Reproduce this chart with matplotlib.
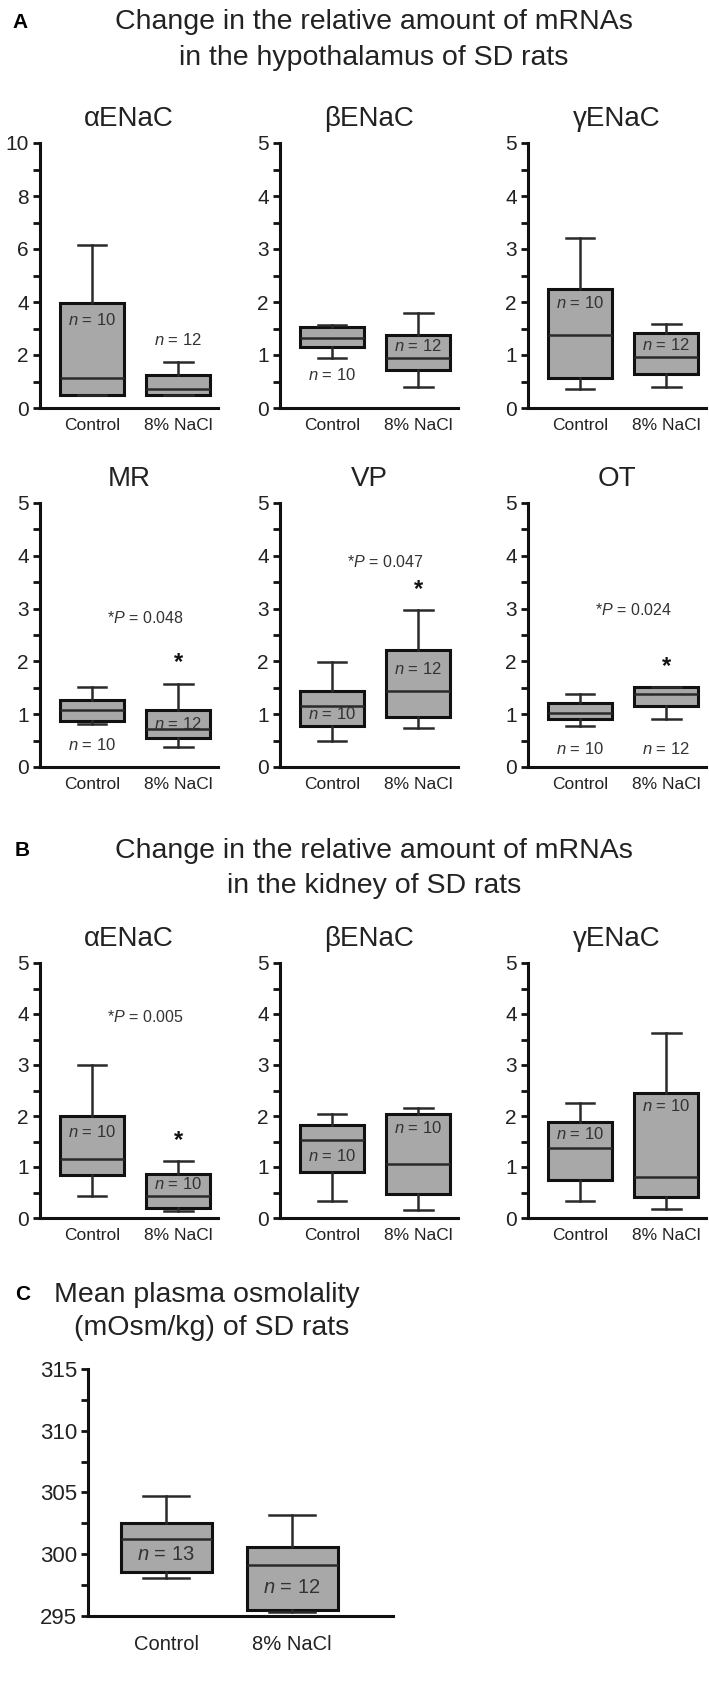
import matplotlib.pyplot as plt
from matplotlib.ticker import MultipleLocator

plt.rcParams['font.family'] = ['Liberation Sans', 'DejaVu Sans']
plt.rcParams['mathtext.fontset'] = 'custom'
plt.rcParams['mathtext.it'] = 'Liberation Sans:italic'
plt.rcParams['mathtext.rm'] = 'Liberation Sans'

groups = ['Control', '8% NaCl']

# A: hypothalamus, each pair = [Control, 8% NaCl]
hyp_genes = ['αENaC', 'βENaC', 'γENaC', 'MR', 'VP', 'OT']
hyp_whislo = [[0.50, 0.49], [0.95, 0.40], [0.35, 0.40], [0.82, 0.38], [0.50, 0.73], [0.78, 0.90]]
hyp_q1 = [[0.50, 0.49], [1.15, 0.72], [0.56, 0.65], [0.88, 0.55], [0.78, 0.95], [0.90, 1.15]]
hyp_med = [[1.13, 0.70], [1.32, 0.95], [1.38, 0.97], [1.08, 0.72], [1.15, 1.44], [1.03, 1.39]]
hyp_q3 = [[3.95, 1.24], [1.53, 1.38], [2.25, 1.41], [1.26, 1.08], [1.43, 2.22], [1.21, 1.51]]
hyp_whishi = [[6.15, 1.72], [1.57, 1.79], [3.20, 1.58], [1.52, 1.58], [1.98, 2.97], [1.39, 1.51]]
hyp_n = [[10, 12], [10, 12], [10, 12], [10, 12], [10, 12], [10, 12]]
hyp_p = [None, None, None, '0.048', '0.047', '0.024']

# B: kidney
kid_genes = ['αENaC', 'βENaC', 'γENaC']
kid_whislo = [[0.43, 0.13], [0.34, 0.15], [0.33, 0.18]]
kid_q1 = [[0.84, 0.20], [0.90, 0.47], [0.75, 0.42]]
kid_med = [[1.16, 0.44], [1.53, 1.05], [1.38, 0.80]]
kid_q3 = [[2.00, 0.86], [1.83, 2.03], [1.88, 2.45]]
kid_whishi = [[3.00, 1.12], [2.03, 2.15], [2.25, 3.62]]
kid_n = [[10, 10], [10, 10], [10, 10]]
kid_p = ['0.005', None, None]

# C: plasma osmolality (mOsm/kg)
osm_whislo = [298.1, 295.3]
osm_q1 = [298.6, 295.45]
osm_med = [301.26, 299.1]
osm_q3 = [302.55, 300.6]
osm_whishi = [304.7, 303.2]
osm_n = [13, 12]

# where the n labels sit (data units)
hyp_n_y = [[3.33, 2.55], [0.62, 1.17], [1.98, 1.19], [0.42, 0.82], [1.0, 1.85], [0.35, 0.35]]
hyp_p_y = [None, None, None, 2.82, 3.88, 2.97]
kid_n_y = [[1.69, 0.66], [1.22, 1.77], [1.65, 2.2]]
kid_p_y = [3.95, None, None]
osm_n_y = [300.0, 297.3]

BOX = '#a8a8a8'
EDGE = '#111111'
LINE = '#2a2a2a'
NARROW = ['Liberation Sans Narrow', 'Liberation Sans', 'DejaVu Sans']


def stats(lo, q1, med, q3, hi):
    return [dict(whislo=lo[i], q1=q1[i], med=med[i], q3=q3[i], whishi=hi[i]) for i in range(2)]


def draw_box(ax, st, width, capw):
    ax.bxp(st, positions=[1, 2], widths=width, showfliers=False, patch_artist=True,
           capwidths=capw,
           boxprops=dict(facecolor=BOX, edgecolor=EDGE, linewidth=2.2),
           medianprops=dict(color=LINE, linewidth=1.8),
           whiskerprops=dict(color=LINE, linewidth=1.8),
           capprops=dict(color=LINE, linewidth=1.8))


def style(ax, major, minor, lab_size=15, x_size=12.5):
    for s in ['top', 'right']:
        ax.spines[s].set_visible(False)
    for s in ['left', 'bottom']:
        ax.spines[s].set_linewidth(2.2)
        ax.spines[s].set_color('#111111')
    ax.yaxis.set_major_locator(MultipleLocator(major))
    ax.yaxis.set_minor_locator(MultipleLocator(minor))
    ax.tick_params(axis='y', which='both', length=5, width=2, labelsize=lab_size, pad=3,
                   colors='#111111', labelcolor='#222222')
    ax.tick_params(axis='x', length=0, labelsize=x_size, pad=7, labelcolor='#222222')
    ax.set_xticks([1, 2])
    ax.set_xticklabels(groups)


def panel(ax, title, st, n, n_y, p, p_y, top, major, minor):
    draw_box(ax, st, 0.74, 0.33)
    ax.set_xlim(0.40, 2.46)
    ax.set_ylim(0, top)
    style(ax, major, minor)
    ax.set_title(title, fontsize=20, pad=12, color='#222222')
    for i in range(2):
        ax.text(i + 1, n_y[i], r'$\it{n}$ = %d' % n[i], ha='center', va='center',
                fontsize=12, color='#333333')
    if p is not None:
        ax.text(1.62, p_y, r'*$\it{P}$ = ' + p, ha='center', va='center',
                fontsize=11.5, color='#333333', family=NARROW)
        ax.text(2, st[1]['whishi'] + 0.035 * top, '*', ha='center', va='bottom',
                fontsize=17, fontweight='bold', color='#111111')


fig = plt.figure(figsize=(7.09, 17.0), dpi=100)
W, H = 709, 1700
lefts = [40, 280, 528]


def add_axes(x0, y_top, w, y_bot):
    return fig.add_axes([x0 / W, 1 - y_bot / H, w / W, (y_bot - y_top) / H])


# A
fig.text(12 / W, 1 - 22 / H, 'A', fontsize=15, fontweight='bold', va='center')
fig.text(374 / W, 1 - 22 / H, 'Change in the relative amount of mRNAs', fontsize=20.5,
         ha='center', va='center', color='#222222')
fig.text(374 / W, 1 - 58 / H, 'in the hypothalamus of SD rats', fontsize=20.5,
         ha='center', va='center', color='#222222')

rows = [(143, 408), (503, 767)]
for k in range(6):
    r, c = divmod(k, 3)
    ax = add_axes(lefts[c], rows[r][0], 178, rows[r][1])
    st = stats(hyp_whislo[k], hyp_q1[k], hyp_med[k], hyp_q3[k], hyp_whishi[k])
    if k == 0:
        panel(ax, hyp_genes[k], st, hyp_n[k], hyp_n_y[k], hyp_p[k], hyp_p_y[k], 10, 2, 1)
    else:
        panel(ax, hyp_genes[k], st, hyp_n[k], hyp_n_y[k], hyp_p[k], hyp_p_y[k], 5, 1, 0.5)

# B
fig.text(15 / W, 1 - 851 / H, 'B', fontsize=15, fontweight='bold', va='center')
fig.text(374 / W, 1 - 851 / H, 'Change in the relative amount of mRNAs', fontsize=20.5,
         ha='center', va='center', color='#222222')
fig.text(374 / W, 1 - 886 / H, 'in the kidney of SD rats', fontsize=20.5,
         ha='center', va='center', color='#222222')

for k in range(3):
    ax = add_axes(lefts[k], 963, 178, 1218)
    st = stats(kid_whislo[k], kid_q1[k], kid_med[k], kid_q3[k], kid_whishi[k])
    panel(ax, kid_genes[k], st, kid_n[k], kid_n_y[k], kid_p[k], kid_p_y[k], 5, 1, 0.5)

# C
fig.text(15 / W, 1 - 1295 / H, 'C', fontsize=15, fontweight='bold', va='center')
fig.text(207 / W, 1 - 1295 / H, 'Mean plasma osmolality', fontsize=20.5,
         ha='center', va='center', color='#222222')
fig.text(212 / W, 1 - 1328 / H, '(mOsm/kg) of SD rats', fontsize=20.5,
         ha='center', va='center', color='#222222')

ax = add_axes(88, 1369, 305, 1616)
st = stats(osm_whislo, osm_q1, osm_med, osm_q3, osm_whishi)
draw_box(ax, st, 0.72, 0.36)
ax.set_xlim(0.38, 2.80)
ax.set_ylim(295, 315)
style(ax, 5, 2.5, lab_size=16, x_size=14.5)
ax.tick_params(axis='x', pad=14)
for i in range(2):
    ax.text(i + 1, osm_n_y[i], r'$\it{n}$ = %d' % osm_n[i], ha='center', va='center',
            fontsize=14.5, color='#333333')

fig.savefig('out.png', dpi=100)
